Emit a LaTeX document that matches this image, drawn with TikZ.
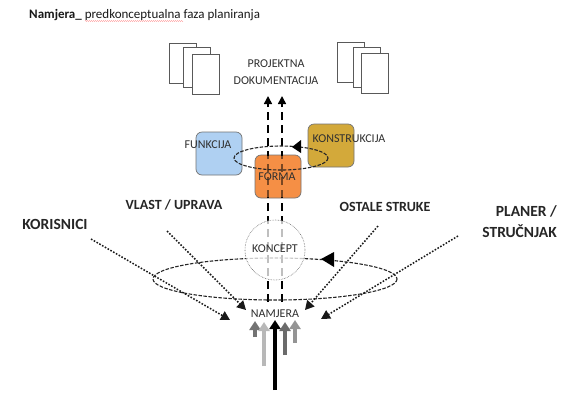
\documentclass[tikz,border=0pt]{standalone}
\usepackage{fontspec}
\setmainfont{Carlito}
\usetikzlibrary{arrows.meta,decorations.pathmorphing}
\definecolor{tx}{HTML}{303030}
\definecolor{funfill}{HTML}{AFD0F2}
\definecolor{konfill}{HTML}{D3A93A}
\definecolor{forfill}{HTML}{F58F45}
\tikzset{
  x=1pt,y=-1pt,
  sheet/.style={draw=black!65,fill=white,line width=0.8pt,minimum width=27pt,minimum height=40pt,inner sep=0pt,anchor=north west},
  rbox/.style={draw=black!55,line width=0.7pt,rounded corners=6pt,minimum width=46pt,minimum height=43pt,inner sep=0pt},
  lab/.style={font=\fontsize{12}{14}\selectfont,text=tx,inner sep=0pt},
  actor/.style={font=\bfseries\fontsize{14}{16}\selectfont,text=black!85,inner sep=0pt},
  actorbig/.style={font=\bfseries\fontsize{15.5}{18}\selectfont,text=black!85,inner sep=0pt},
  dashup/.style={draw=black,line width=1.5pt,dash pattern=on 8pt off 5pt,-{Triangle[length=8pt,width=8pt]}},
  dottedin/.style={draw=black!90,line width=1.5pt,dash pattern=on 1.6pt off 1.6pt,-{Triangle[length=9pt,width=9.5pt]}},
  orbit/.style={draw=black!85,line width=1.1pt,dash pattern=on 3.5pt off 1.5pt},
  upthin/.style={line width=3.5pt,-{Triangle[length=9pt,width=11pt]}},
  turn/.style={fill=black,draw=none},
}
\begin{document}
\begin{tikzpicture}
\useasboundingbox (0,0) rectangle (575,400);
\fill[white] (0,0) rectangle (575,400);
% title
\node[anchor=west,inner sep=0pt,font=\fontsize{13}{15}\selectfont,text=black!90] (title) at (29,15) {\textbf{Namjera\_} predkonceptualna faza planiranja};
\draw[red!60!white,line width=0.3pt,decorate,decoration={zigzag,amplitude=0.5pt,segment length=2pt}] (85,21) -- (183,21);
% document sheets
\node[sheet] (la) at (169,43) {};
\node[sheet] (lb) at (183,47) {};
\node[sheet] (lc) at (192,54) {};
\node[sheet] (ra) at (337,42) {};
\node[sheet] (rb) at (353,47) {};
\node[sheet] (rc) at (361,53) {};
\node[lab,align=center] (doc1) at (276,64) {PROJEKTNA};
\node[lab,align=center] (doc2) at (276,81) {DOKUMENTACIJA};
% boxes
\node[rbox,fill=funfill] (fun) at (219,153.5) {};
\node[rbox,fill=konfill] (kon) at (331,145.5) {};
% dashed arrows, lower part behind circle
\coordinate (d1b) at (268,302);
\coordinate (d2b) at (282,302);
\coordinate (d1t) at (268,96);
\coordinate (d2t) at (282,96);
\node[rbox,fill=forfill] (for) at (278,176.5) {};
\draw[dashup] (d1b) -- (d1t);
\draw[dashup] (d2b) -- (d2t);
% fade the dashes on the orange box
\fill[forfill,opacity=0.5,rounded corners=6pt] (256,156) rectangle (300,197);
% small orbit
\node[draw=none,inner sep=0pt] (c1) at (281,158) {};
\draw[orbit] (c1) ellipse [x radius=47,y radius=12];
\fill[turn] (292,147) -- (301,140) -- (301,153) -- cycle;
% labels over boxes
\node[lab] (funl) at (208,145) {FUNKCIJA};
\node[lab] (konl) at (349,139) {KONSTRUKCIJA};
\node[lab] (forl) at (277,177) {FORMA};
% big orbit
\node[draw=none,inner sep=0pt] (c2) at (275,279) {};
\draw[orbit] (c2) ellipse [x radius=122,y radius=21];
\fill[turn] (321,259) -- (334,252) -- (334,267) -- cycle;
% concept circle
\node[circle,draw=black!60,densely dotted,line width=0.6pt,fill=white,fill opacity=0.75,text opacity=1,minimum size=60pt,inner sep=0pt] (kc) at (275,250) {};
\node[lab] (kl) at (275,249) {KONCEPT};
% actors
\node[actorbig] (kor) at (55,224) {KORISNICI};
\node[actor] (vla) at (174,205) {VLAST / UPRAVA};
\node[actor] (ost) at (385,207) {OSTALE STRUKE};
\node[actorbig,align=right,anchor=east] (pla) at (557,221.5) {PLANER /\\[3pt]STRUČNJAK};
\node[lab] (nam) at (275,314) {NAMJERA};
% dotted inputs
\coordinate (kor0) at (91,239);
\coordinate (kor1) at (230,320);
\coordinate (vla0) at (167,231);
\coordinate (vla1) at (246,310);
\coordinate (ost0) at (378,226);
\coordinate (ost1) at (305,310);
\coordinate (pla0) at (458,236);
\coordinate (pla1) at (321,319);
\draw[dottedin] (kor0) -- (kor1);
\draw[dottedin] (vla0) -- (vla1);
\draw[dottedin] (ost0) -- (ost1);
\draw[dottedin] (pla0) -- (pla1);
% upward arrows
\coordinate (u1b) at (255,337); \coordinate (u1t) at (255,321);
\coordinate (u2b) at (264,366); \coordinate (u2t) at (264,322);
\coordinate (u3b) at (275,390); \coordinate (u3t) at (275,320);
\coordinate (u4b) at (285,355); \coordinate (u4t) at (285,322);
\coordinate (u5b) at (295,343); \coordinate (u5t) at (295,320);
\draw[upthin,draw=black!55,color=black!55] (u1b) -- (u1t);
\draw[upthin,draw=black!28,color=black!28] (u2b) -- (u2t);
\draw[upthin,draw=black,color=black,line width=3.5pt] (u3b) -- (u3t);
\draw[upthin,draw=black!58,color=black!58] (u4b) -- (u4t);
\draw[upthin,draw=black!42,color=black!42] (u5b) -- (u5t);
\end{tikzpicture}
\end{document}
